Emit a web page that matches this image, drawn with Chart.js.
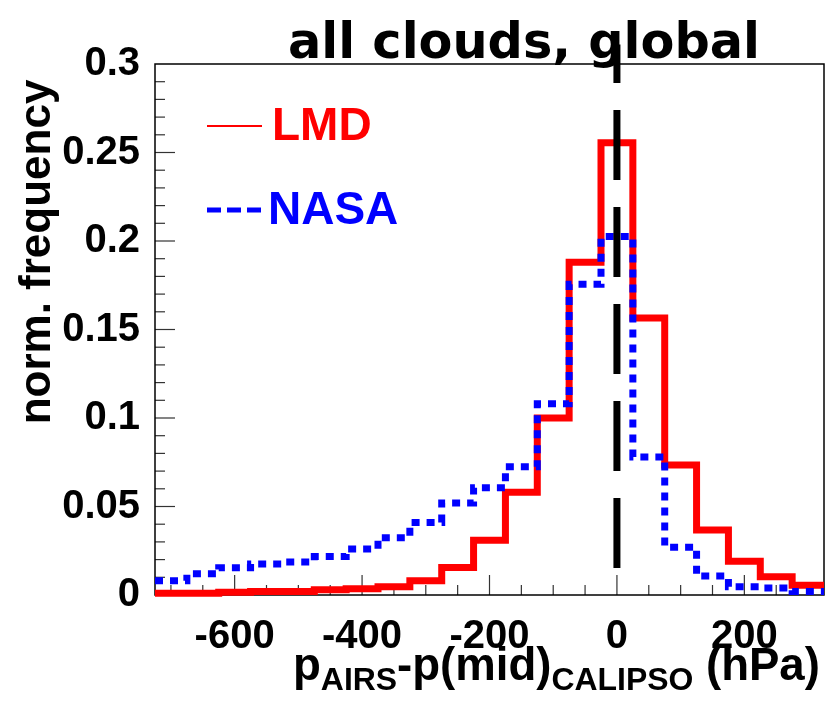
<!DOCTYPE html>
<html>
<head>
<meta charset="utf-8">
<script src="https://cdn.jsdelivr.net/npm/chart.js@4.4.1/dist/chart.umd.min.js"></script>
<style>
  html, body { margin: 0; padding: 0; background: #fff; }
  canvas { display: block; }
</style>
</head>
<body>
<canvas id="myChart" width="825" height="701"></canvas>
<script>
// bin centres in hPa (50 hPa wide bins)
const binCenters = [-700, -650, -600, -550, -500, -450, -400, -350, -300, -250, -200,
                    -150, -100, -50, 0, 50, 100, 150, 200, 250, 300];
const binWidth = 50;
const lmdFreq = [0.001, 0.001, 0.0015, 0.002, 0.002, 0.003, 0.0035, 0.0047, 0.008, 0.0155, 0.031,
                 0.058, 0.100, 0.188, 0.2555, 0.1565, 0.0735, 0.0367, 0.019, 0.0103, 0.0055];
const nasaFreq = [0.008, 0.012, 0.0154, 0.0175, 0.0186, 0.0217, 0.026, 0.0324, 0.041, 0.052, 0.0606,
                  0.0725, 0.108, 0.1755, 0.2025, 0.078, 0.027, 0.0107, 0.0047, 0.004, 0.002];
const xTicks = [-600, -400, -200, 0, 200];
const yTicks = [0, 0.05, 0.1, 0.15, 0.2, 0.25, 0.3];
const yTickLabels = ['0', '0.05', '0.1', '0.15', '0.2', '0.25', '0.3'];
const refLineX = 0;
const refLineTop = 0.311;

const numFont = '"Liberation Sans", Arial, Helvetica, sans-serif';

function histPoints(vals) {
    let pts = binCenters.map((c, i) => ({ x: c - binWidth / 2, y: vals[i] }));
    pts.push({ x: binCenters[binCenters.length - 1] + binWidth / 2, y: vals[vals.length - 1] });
    return pts;
}

// frame + inward ticks like the ROOT plot
const frameTicks = {
    id: 'frameTicks',
    beforeDatasetsDraw(chart) {
        const { ctx, chartArea: a, scales: { x, y } } = chart;
        ctx.save();
        ctx.strokeStyle = '#333';
        ctx.lineWidth = 1.2;
        for (let v = -700; v <= 300; v += 50) {
            let px = x.getPixelForValue(v);
            let len = xTicks.includes(v) ? 20 : 10;
            ctx.beginPath();
            ctx.moveTo(px, a.bottom);
            ctx.lineTo(px, a.bottom - len);
            ctx.stroke();
        }
        for (let i = 1; i < 30; i++) {
            let py = y.getPixelForValue(i / 100);
            let len = i % 5 === 0 ? 20 : 10;
            ctx.beginPath();
            ctx.moveTo(a.left, py);
            ctx.lineTo(a.left + len, py);
            ctx.stroke();
        }
        ctx.strokeStyle = '#000';
        ctx.lineWidth = 1.5;
        ctx.strokeRect(a.left, a.top, a.right - a.left, a.bottom - a.top);
        ctx.restore();
    }
};

// title, legend, axis titles
const annotations = {
    id: 'annotations',
    afterDraw(chart) {
        const ctx = chart.ctx;
        ctx.save();

        // title
        let size = 46;
        ctx.font = '600 ' + size + 'px "DejaVu Sans", sans-serif';
        let w = ctx.measureText('all clouds, global').width;
        size = size * 472 / w;
        ctx.font = '600 ' + size + 'px "DejaVu Sans", sans-serif';
        ctx.fillStyle = '#000';
        ctx.textAlign = 'center';
        ctx.textBaseline = 'alphabetic';
        ctx.fillText('all clouds, global', 524, 58);

        // legend
        ctx.strokeStyle = '#ff0000';
        ctx.lineWidth = 2;
        ctx.beginPath();
        ctx.moveTo(207, 126);
        ctx.lineTo(262, 126);
        ctx.stroke();
        ctx.strokeStyle = '#0000ff';
        ctx.lineWidth = 5;
        ctx.setLineDash([14, 6]);
        ctx.beginPath();
        ctx.moveTo(207, 210);
        ctx.lineTo(262, 210);
        ctx.stroke();
        ctx.setLineDash([]);
        ctx.font = 'bold 46px ' + numFont;
        ctx.textAlign = 'left';
        ctx.textBaseline = 'middle';
        ctx.fillStyle = '#ff0000';
        ctx.fillText('LMD', 272, 127);
        ctx.fillStyle = '#0000ff';
        ctx.fillText('NASA', 268, 211);

        // y title
        ctx.fillStyle = '#000';
        ctx.font = 'bold 44px ' + numFont;
        ctx.save();
        ctx.translate(38, 252);
        ctx.rotate(-Math.PI / 2);
        ctx.textAlign = 'center';
        ctx.textBaseline = 'middle';
        ctx.fillText('norm. frequency', 0, 0);
        ctx.restore();

        // x title with subscripts
        const parts = [
            ['p', 0], ['AIRS', 1], ['-p(mid)', 0], ['CALIPSO', 1], [' (hPa)', 0]
        ];
        let base = 42;
        const measure = (s) => {
            let tot = 0;
            parts.forEach(([t, sub]) => {
                ctx.font = 'bold ' + (sub ? s * 0.7 : s) + 'px ' + numFont;
                tot += ctx.measureText(t).width;
            });
            return tot;
        };
        base = base * 527 / measure(base);
        let cx = 293;
        ctx.textAlign = 'left';
        ctx.textBaseline = 'alphabetic';
        parts.forEach(([t, sub]) => {
            ctx.font = 'bold ' + (sub ? base * 0.7 : base) + 'px ' + numFont;
            ctx.fillText(t, cx, sub ? 690 : 680);
            cx += ctx.measureText(t).width;
        });

        ctx.restore();
    }
};

let myChart = document.getElementById('myChart').getContext('2d');
let histChart = new Chart(myChart, {
    type: 'line',
    data: {
        datasets: [{
            label: 'mid',
            data: [{ x: refLineX, y: 0 }, { x: refLineX, y: refLineTop }],
            borderColor: '#000',
            borderWidth: 7,
            borderDash: [70, 27],
            borderDashOffset: 70,
            borderCapStyle: 'butt',
            pointRadius: 0,
            clip: false
        }, {
            label: 'NASA',
            data: histPoints(nasaFreq),
            borderColor: '#0000ff',
            borderWidth: 7,
            borderDash: [8, 7],
            borderCapStyle: 'butt',
            stepped: 'before',
            pointRadius: 0,
            clip: false
        }, {
            label: 'LMD',
            data: histPoints(lmdFreq),
            borderColor: '#ff0000',
            borderWidth: 7,
            borderCapStyle: 'butt',
            borderJoinStyle: 'miter',
            stepped: 'before',
            pointRadius: 0,
            clip: false
        }]
    },
    options: {
        responsive: false,
        animation: false,
        layout: { padding: { top: 64, right: 1, left: 0, bottom: 0 } },
        plugins: {
            legend: { display: false },
            tooltip: { enabled: false },
            title: { display: false }
        },
        scales: {
            x: {
                type: 'linear',
                min: -725,
                max: 325,
                grid: { display: false, drawTicks: false },
                border: { display: false },
                afterBuildTicks: (axis) => { axis.ticks = xTicks.map(v => ({ value: v })); },
                afterFit: (axis) => { axis.height = 106; },
                ticks: {
                    autoSkip: false,
                    maxRotation: 0,
                    padding: 18,
                    color: '#000',
                    font: { family: numFont, size: 40, weight: 'bold' },
                    callback: (v) => String(v)
                }
            },
            y: {
                type: 'linear',
                min: 0,
                max: 0.3,
                grid: { display: false, drawTicks: false },
                border: { display: false },
                afterBuildTicks: (axis) => { axis.ticks = yTicks.map(v => ({ value: v })); },
                afterFit: (axis) => { axis.width = 155; },
                ticks: {
                    autoSkip: false,
                    padding: 15,
                    color: '#000',
                    font: { family: numFont, size: 40, weight: 'bold' },
                    callback: (v, i) => yTickLabels[i]
                }
            }
        }
    },
    plugins: [frameTicks, annotations]
});
</script>
</body>
</html>
